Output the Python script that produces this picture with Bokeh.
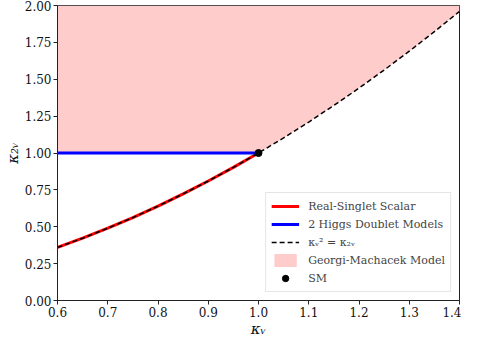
from bokeh.plotting import figure
from bokeh.models import (Range1d, FixedTicker, PrintfTickFormatter, Legend,
                          LegendItem)
from bokeh.embed import file_html
from bokeh.resources import INLINE

# ---- data ----
kappa_v = [0.60, 0.65, 0.70, 0.75, 0.80, 0.85, 0.90, 0.95, 1.00,
           1.05, 1.10, 1.15, 1.20, 1.25, 1.30, 1.35, 1.40]
kappa_2v = [0.36, 0.4225, 0.49, 0.5625, 0.64, 0.7225, 0.81, 0.9025, 1.00,
            1.1025, 1.21, 1.3225, 1.44, 1.5625, 1.69, 1.8225, 1.96]
singlet_x = [v for v in kappa_v if v <= 1.0]
singlet_y = [kappa_2v[i] for i, v in enumerate(kappa_v) if v <= 1.0]
doublet_x = [0.6, 1.0]
doublet_y = [1.0, 1.0]
gm_lower = [max(1.0, y) for y in kappa_2v]
gm_upper = [2.0] * len(kappa_v)
sm_x = [1.0]
sm_y = [1.0]
x_ticks = [0.6, 0.7, 0.8, 0.9, 1.0, 1.1, 1.2, 1.3, 1.4]
y_ticks = [0.0, 0.25, 0.5, 0.75, 1.0, 1.25, 1.5, 1.75, 2.0]

FONT = "DejaVu Serif"

p = figure(width=461, height=340, output_backend="svg", toolbar_location=None,
           x_range=Range1d(0.6, 1.4), y_range=Range1d(0.0, 2.0),
           min_border_left=40, min_border_right=2, min_border_top=5,
           min_border_bottom=26)
p.grid.visible = False
p.outline_line_color = "#222222"
p.outline_line_width = 1
p.background_fill_color = "white"
p.border_fill_color = "white"

for ax in (p.xaxis[0], p.yaxis[0]):
    ax.axis_line_color = "#222222"
    ax.major_tick_line_color = "#222222"
    ax.major_tick_out = 4
    ax.major_tick_in = 0
    ax.minor_tick_out = 0
    ax.minor_tick_in = 0
    ax.major_label_text_font = FONT
    ax.major_label_text_font_size = "12px"
    ax.major_label_text_color = "#111111"
    ax.major_label_standoff = 2
    ax.axis_label_text_font = FONT
    ax.axis_label_text_font_style = "italic"
    ax.axis_label_text_font_size = "15px"
    ax.axis_label_text_color = "#111111"
    ax.axis_label_standoff = 0
p.xaxis.axis_label = "κᵥ"
p.yaxis.axis_label = "κ₂ᵥ"
p.xaxis.ticker = FixedTicker(ticks=x_ticks)
p.yaxis.ticker = FixedTicker(ticks=y_ticks)
p.xaxis.formatter = PrintfTickFormatter(format="%.1f")
p.yaxis.formatter = PrintfTickFormatter(format="%.2f")

r_gm = p.varea(x=kappa_v, y1=gm_lower, y2=gm_upper, fill_color="#ffcccc")
r_red = p.line(singlet_x, singlet_y, line_color="#ff0000", line_width=3)
r_blue = p.line(doublet_x, doublet_y, line_color="#0000ff", line_width=3)
r_dash = p.line(kappa_v, kappa_2v, line_color="black", line_width=1.5,
                line_dash="5 3")
r_sm = p.scatter(sm_x, sm_y, size=7, color="black")

legend = Legend(items=[
    LegendItem(label="Real-Singlet Scalar", renderers=[r_red]),
    LegendItem(label="2 Higgs Doublet Models", renderers=[r_blue]),
    LegendItem(label="κᵥ² = κ₂ᵥ", renderers=[r_dash]),
    LegendItem(label="Georgi-Machacek Model", renderers=[r_gm]),
    LegendItem(label="SM", renderers=[r_sm]),
], location="bottom_right")
legend.margin = 8
legend.label_text_font = FONT
legend.label_text_font_size = "11px"
legend.label_height = 16
legend.glyph_height = 16
legend.glyph_width = 28
legend.spacing = 2
legend.padding = 5
legend.label_standoff = 9
legend.border_line_color = "#cccccc"
legend.border_line_width = 1
legend.background_fill_alpha = 0.85
p.add_layout(legend)

open("out.html", "w").write(file_html(p, INLINE))
